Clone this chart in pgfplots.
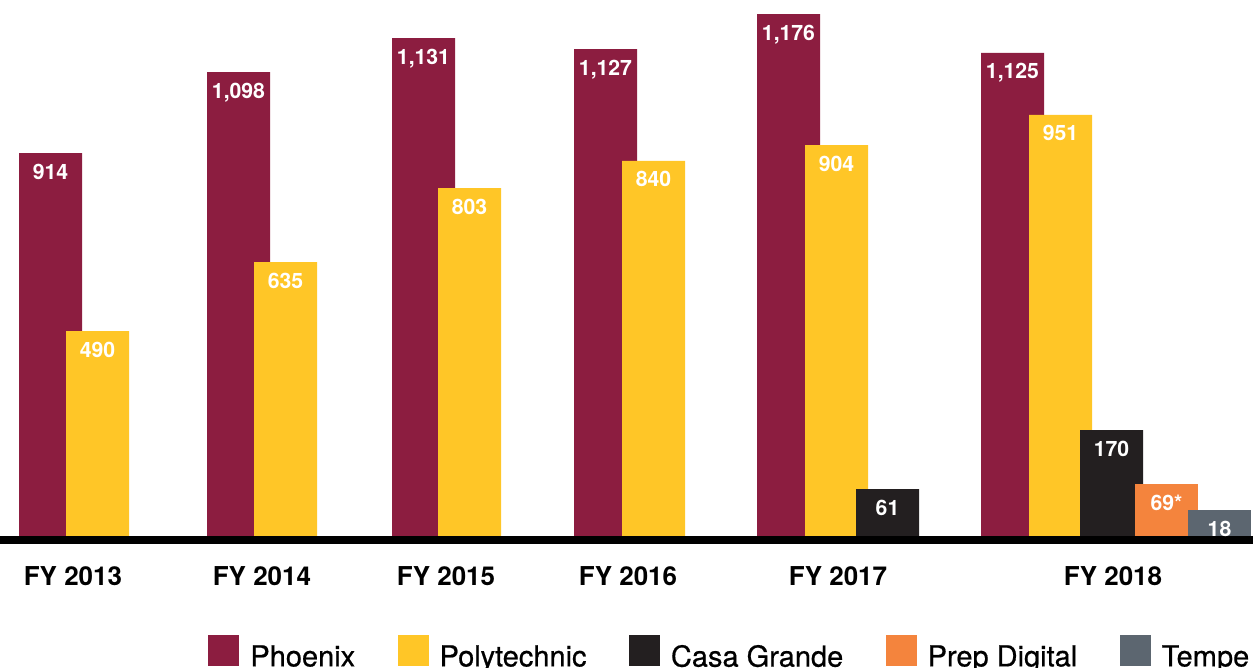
\documentclass[border=0pt]{standalone}
\usepackage{pgfplots}
\pgfplotsset{compat=1.18}
\usepackage{fontspec}
\setmainfont{TeX Gyre Heros}
\newfontfamily\legfont[FakeBold=0.6]{TeX Gyre Heros}
\definecolor{phx}{HTML}{8C1D40}
\definecolor{poly}{HTML}{FFC627}
\definecolor{casa}{HTML}{231F20}
\definecolor{prep}{HTML}{F4843D}
\definecolor{tempe}{HTML}{5C6670}
% bar heights as drawn in the picture; labels carry the printed values
\pgfplotstableread{
x y l
50.5 884.5 914
238.5 1071.6 1,098
423.5 1150.1 1,131
605.5 1124.7 1,127
788.5 1205.5 1,176
1012.5 1115.5 1,125
}\phxdata
\pgfplotstableread{
x y l
97.5 473.4 490
285.5 632.8 635
469.5 803.7 803
653.5 866.1 840
836.5 903.0 904
1060.5 972.3 951
}\polydata
\pgfplotstableread{
x y l
887.5 108.5 61
1111.5 244.8 170
}\casadata
\pgfplotstableread{
x y l
1166.5 120 69*
}\prepdata
\pgfplotstableread{
x y l
1219.5 60 18
}\tempedata
\begin{document}
\begin{tikzpicture}
\useasboundingbox (0,0) rectangle (626.5pt,334pt);
\clip (0,0) rectangle (626.5pt,334pt);
\begin{axis}[at={(0,0)}, anchor=south west, scale only axis,
  width=626.5pt, height=334pt,
  xmin=0, xmax=1253, ymin=-304.8, ymax=1237.9,
  axis lines=none, clip=false,
  nodes near coords, point meta=explicit symbolic,
  every node near coord/.append style={font=\fontsize{10.6}{12}\selectfont\bfseries, text=white, anchor=base, yshift=-13pt},
  legend columns=-1,
  legend image code/.code={\fill[#1] (0pt,-4.5pt) rectangle (15.5pt,11pt);},
  legend style={at={(axis cs:208,-269)}, anchor=west, draw=none, fill=none,
    inner sep=0pt, font=\legfont\fontsize{14.5}{16}\selectfont,
    nodes={inner sep=0pt},
    /tikz/every odd column/.style={column sep=5.5pt},
    /tikz/every even column/.style={column sep=21.2pt}},
]
\addplot[ybar, bar width=31.5pt, bar shift=0pt, fill=phx, draw=none] table[x=x,y=y,meta=l] {\phxdata};
\addlegendentry{Phoenix}
\addplot[ybar, bar width=31.5pt, bar shift=0pt, fill=poly, draw=none] table[x=x,y=y,meta=l] {\polydata};
\addlegendentry{Polytechnic}
\addplot[ybar, bar width=31.5pt, bar shift=0pt, fill=casa, draw=none] table[x=x,y=y,meta=l] {\casadata};
\addlegendentry{Casa Grande}
\addplot[ybar, bar width=31.5pt, bar shift=0pt, fill=prep, draw=none] table[x=x,y=y,meta=l] {\prepdata};
\addlegendentry{Prep Digital}
\addplot[ybar, bar width=31.5pt, bar shift=0pt, fill=tempe, draw=none] table[x=x,y=y,meta=l] {\tempedata};
\addlegendentry{Tempe}
\draw[line width=4pt, black] (axis cs:0,-9.24) -- (axis cs:1253,-9.24);
\begin{scope}[every node/.style={font=\fontsize{13}{15}\selectfont\bfseries, anchor=base}]
\node at (axis cs:73,-113.2) {FY 2013};
\node at (axis cs:262,-113.2) {FY 2014};
\node at (axis cs:446,-113.2) {FY 2015};
\node at (axis cs:628,-113.2) {FY 2016};
\node at (axis cs:838,-113.2) {FY 2017};
\node at (axis cs:1113,-113.2) {FY 2018};
\end{scope}
\end{axis}
\end{tikzpicture}
\end{document}
